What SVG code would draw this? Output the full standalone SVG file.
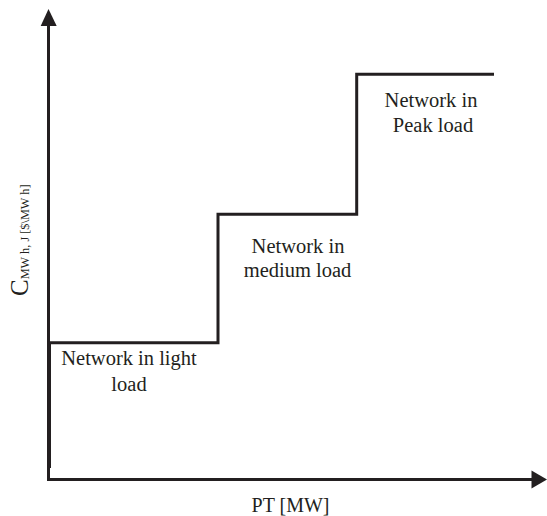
<svg xmlns="http://www.w3.org/2000/svg" width="547" height="516" viewBox="0 0 547 516">
  <style>
    .ln { fill: none; stroke: #231f20; stroke-width: 3; stroke-linecap: butt; stroke-linejoin: miter; }
    .head { fill: #231f20; }
    .lbl { font-family: "Liberation Serif", "Times New Roman", serif; font-size: 20.5px; fill: #231f20; text-anchor: middle; }
    .ax { font-family: "Liberation Serif", "Times New Roman", serif; fill: #231f20; }
  </style>
  <rect width="547" height="516" fill="#ffffff"/>

  <!-- axes -->
  <g id="axes">
    <line class="ln" x1="48.5" y1="481" x2="48.5" y2="24"/>
    <polygon class="head" points="48.5,9 40.7,26 56.7,26"/>
    <line class="ln" x1="47" y1="479.5" x2="533" y2="479.5"/>
    <polygon class="head" points="547,479.5 531.5,470.5 531.5,488.5"/>
    <text class="ax" font-size="20" x="290.5" y="511.5" text-anchor="middle">PT [MW]</text>
    <text class="ax" transform="translate(27.5,296) rotate(-90)" font-size="25">C<tspan font-size="12.3" dy="1">MW h, J [$\MW h]</tspan></text>
  </g>

  <!-- cost step curve -->
  <g id="connectors">
    <polyline class="ln" points="49.5,468 49.5,342.7 218,342.7 218,214.3 356.7,214.3 356.7,74.3 494,74.3"/>
  </g>

  <g id="light-load">
    <text class="lbl" x="129" y="365">Network in light</text>
    <text class="lbl" x="129" y="391">load</text>
  </g>

  <g id="medium-load">
    <text class="lbl" x="298" y="252.5">Network in</text>
    <text class="lbl" x="297.5" y="276.5">medium load</text>
  </g>

  <g id="peak-load">
    <text class="lbl" x="431" y="107">Network in</text>
    <text class="lbl" x="433" y="131.5">Peak load</text>
  </g>
</svg>
